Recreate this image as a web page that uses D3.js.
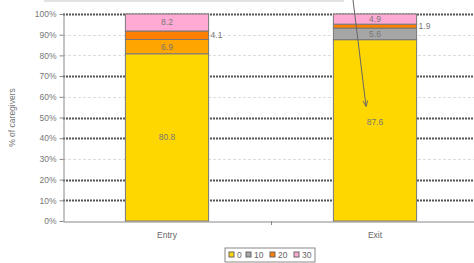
<!DOCTYPE html>
<html>
<head>
<meta charset="utf-8">
<script src="https://cdn.jsdelivr.net/npm/d3@7/dist/d3.min.js"></script>
<style>
  body { margin: 0; background: #fff; }
  svg { display: block; font-family: "Liberation Sans", Arial, sans-serif; }
</style>
</head>
<body>
<div id="chart"></div>
<script>
// Data
const categories = ['Entry', 'Exit'];
const seriesNames = ['0', '10', '20', '30'];
const seriesColors = ['#FFD700', '#A6A6A6', '#FF7F00', '#FFAAD4'];
const values = {
  '0':  [80.8, 87.6],
  '10': [6.9, 5.6],
  '20': [4.1, 1.9],
  '30': [8.2, 4.9]
};
// Entry's "10" segment is drawn in orange in the original
const pointColors = { '10': ['#FFA500', null] };
const yTicks = [0, 10, 20, 30, 40, 50, 60, 70, 80, 90, 100];
const strongGrid = [10, 20, 40, 50, 70, 100];

const width = 474, height = 263;
const margin = { top: 14, bottom: 42, left: 63 };

const svg = d3.select('#chart').append('svg')
  .attr('width', width)
  .attr('height', height);

// plot area runs a little past the right edge of the picture
const x = d3.scaleBand()
  .domain(categories)
  .range([margin.left, 479])
  .paddingInner(0.6)
  .paddingOuter(0.3);

const y = d3.scaleLinear()
  .domain([0, 100])
  .range([height - margin.bottom, margin.top]);

// Faint line at the very top (bottom edge of a cropped callout box)
svg.append('line')
  .attr('x1', 44).attr('x2', 344)
  .attr('y1', 1).attr('y2', 1)
  .attr('stroke', '#d9d9d9')
  .attr('stroke-width', 1.5);

// Gridlines
const grid = svg.append('g');
grid.selectAll('line')
  .data(yTicks.filter(d => d > 0))
  .enter().append('line')
  .attr('x1', margin.left).attr('x2', width)
  .attr('y1', d => Math.round(y(d)) + 0.5)
  .attr('y2', d => Math.round(y(d)) + 0.5)
  .attr('stroke', d => strongGrid.includes(d) ? '#555' : '#dcdcdc')
  .attr('stroke-width', d => strongGrid.includes(d) ? 2 : 1)
  .attr('stroke-dasharray', d => strongGrid.includes(d) ? '2,1' : '3,2');

// Stack
const rows = categories.map((c, i) => {
  const r = { category: c };
  seriesNames.forEach(s => { r[s] = values[s][i]; });
  return r;
});
const stacked = d3.stack().keys(seriesNames)(rows);

const points = d => d.map((p, i) => ({ key: d.key, i, y0: p[0], y1: p[1], cat: p.data.category }));

const layers = svg.append('g').selectAll('g')
  .data(stacked)
  .enter().append('g');

layers.selectAll('rect')
  .data(points)
  .enter().append('rect')
  .attr('x', d => x(d.cat))
  .attr('width', x.bandwidth())
  .attr('y', d => y(d.y1))
  .attr('height', d => y(d.y0) - y(d.y1))
  .attr('fill', d => (pointColors[d.key] && pointColors[d.key][d.i]) || seriesColors[seriesNames.indexOf(d.key)])
  .attr('stroke', '#777')
  .attr('stroke-width', 1);

// Data labels (thin segments get their label beside the bar)
const outside = d => (d.y1 - d.y0) < 4.5;
layers.selectAll('text')
  .data(points)
  .enter().append('text')
  .attr('x', d => outside(d) ? x(d.cat) + x.bandwidth() + 2 : x(d.cat) + x.bandwidth() / 2)
  .attr('y', d => y((d.y0 + d.y1) / 2) + 3 - (d.key === '0' && d.cat === 'Exit' ? 8 : 0))
  .attr('text-anchor', d => outside(d) ? 'start' : 'middle')
  .attr('font-size', 8.5)
  .attr('fill', '#777')
  .text(d => (d.y1 - d.y0).toFixed(1));

// Y axis
const yAxis = svg.append('g')
  .attr('transform', `translate(${margin.left + 0.5},0)`)
  .call(d3.axisLeft(y).tickValues(yTicks).tickFormat(d => d + '%').tickSize(4).tickSizeOuter(0));
yAxis.select('.domain').attr('stroke', '#888');
yAxis.selectAll('.tick line').attr('stroke', '#888');
yAxis.selectAll('.tick text')
  .attr('fill', '#777')
  .attr('font-size', 8.5)
  .attr('font-family', '"Liberation Sans", Arial, sans-serif')
  .attr('x', -7);

// X axis
const xAxis = svg.append('g')
  .attr('transform', `translate(0,${height - margin.bottom + 0.5})`)
  .call(d3.axisBottom(x).tickSize(0).tickSizeOuter(0));
xAxis.select('.domain').attr('stroke', '#888');
xAxis.selectAll('.tick text')
  .attr('fill', '#666')
  .attr('font-size', 8.5)
  .attr('font-family', '"Liberation Sans", Arial, sans-serif')
  .attr('dy', '1.6em');
// middle divider tick
const midX = Math.round((x('Entry') + x.bandwidth() + x('Exit')) / 2) + 0.5;
svg.append('line')
  .attr('x1', midX).attr('x2', midX)
  .attr('y1', y(0)).attr('y2', y(0) + 4)
  .attr('stroke', '#888');

// Y axis title
svg.append('text')
  .attr('transform', `translate(15,${(y(0) + y(100)) / 2}) rotate(-90)`)
  .attr('text-anchor', 'middle')
  .attr('font-size', 8.5)
  .attr('fill', '#777')
  .text('% of caregivers');

// Arrow annotation
svg.append('defs').append('marker')
  .attr('id', 'arrow')
  .attr('viewBox', '0 -5 10 10')
  .attr('refX', 9).attr('refY', 0)
  .attr('markerWidth', 6).attr('markerHeight', 6)
  .attr('orient', 'auto')
  .append('path')
  .attr('d', 'M0,-4L10,0L0,4')
  .attr('fill', 'none')
  .attr('stroke', '#666')
  .attr('stroke-width', 1.5);
svg.append('line')
  .attr('x1', 353).attr('y1', 0)
  .attr('x2', 366).attr('y2', 106)
  .attr('stroke', '#666')
  .attr('stroke-width', 1)
  .attr('marker-end', 'url(#arrow)');

// Legend
const legend = svg.append('g').attr('transform', 'translate(225,248)');
legend.append('rect')
  .attr('width', 90).attr('height', 14)
  .attr('fill', '#fff')
  .attr('stroke', '#888');
const itemX = [4, 21, 45, 69];
seriesNames.forEach((s, i) => {
  const g = legend.append('g').attr('transform', `translate(${itemX[i]},4)`);
  g.append('rect')
    .attr('width', 5).attr('height', 5)
    .attr('fill', seriesColors[i])
    .attr('stroke', '#666');
  g.append('text')
    .attr('x', 8).attr('y', 6)
    .attr('font-size', 8.5)
    .attr('fill', '#666')
    .text(s);
});
</script>
</body>
</html>
